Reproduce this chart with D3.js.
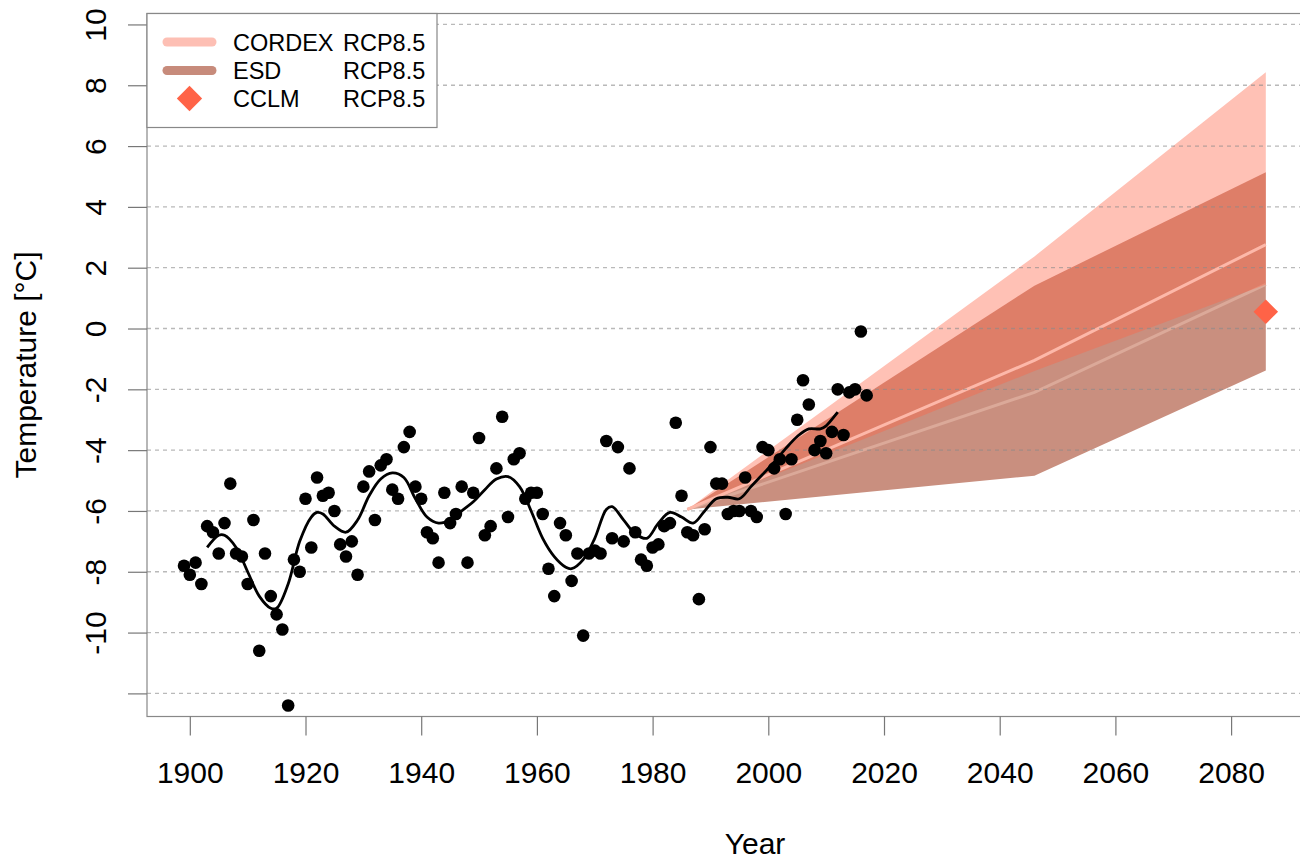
<!DOCTYPE html>
<html>
<head>
<meta charset="utf-8">
<script src="https://cdn.jsdelivr.net/npm/d3@7"></script>
<style>
  html, body { margin: 0; padding: 0; background: #fff; }
  svg { display: block; font-family: "Liberation Sans", Arial, Helvetica, sans-serif; }
</style>
</head>
<body>
<svg id="chart" width="1300" height="860"></svg>
<script>
// ---------- data ----------
const obsYears = [1899,1900,1901,1902,1903,1904,1905,1906,1907,1908,1909,1910,1911,1912,1913,1914,1915,1916,1917,1918,1919,
  1920,1921,1922,1923,1924,1925,1926,1927,1928,1929,1930,1931,1932,1933,1934,1935,1936,1937,1938,1939,
  1940,1941,1942,1943,1944,1945,1946,1947,1948,1949,1950,1951,1952,1953,1954,1955,1956,1957,1958,1959,
  1960,1961,1962,1963,1964,1965,1966,1967,1968,1969,1970,1971,1972,1973,1974,1975,1976,1977,1978,1979,
  1980,1981,1982,1983,1984,1985,1986,1987,1988,1989,1990,1991,1992,1993,1994,1995,1996,1997,1998,1999,
  2000,2001,2002,2003,2004,2005,2006,2007,2008,2009,2010,2011,2012,2013,2014,2015,2016,2017];
const obsTemps = [-7.8,-8.1,-7.7,-8.4,-6.5,-6.7,-7.4,-6.4,-5.1,-7.4,-7.5,-8.4,-6.3,-10.6,-7.4,-8.8,-9.4,-9.9,-12.4,-7.6,-8.0,
  -5.6,-7.2,-4.9,-5.5,-5.4,-6.0,-7.1,-7.5,-7.0,-8.1,-5.2,-4.7,-6.3,-4.5,-4.3,-5.3,-5.6,-3.9,-3.4,-5.2,
  -5.6,-6.7,-6.9,-7.7,-5.4,-6.4,-6.1,-5.2,-7.7,-5.4,-3.6,-6.8,-6.5,-4.6,-2.9,-6.2,-4.3,-4.1,-5.6,-5.4,
  -5.4,-6.1,-7.9,-8.8,-6.4,-6.8,-8.3,-7.4,-10.1,-7.4,-7.3,-7.4,-3.7,-6.9,-3.9,-7.0,-4.6,-6.7,-7.6,-7.8,
  -7.2,-7.1,-6.5,-6.4,-3.1,-5.5,-6.7,-6.8,-8.9,-6.6,-3.9,-5.1,-5.1,-6.1,-6.0,-6.0,-4.9,-6.0,-6.2,-3.9,
  -4.0,-4.6,-4.3,-6.1,-4.3,-3.0,-1.7,-2.5,-4.0,-3.7,-4.1,-3.4,-2.0,-3.5,-2.1,-2.0,-0.1,-2.2];

const smoothYears = [1903,1905,1906,1908,1910,1912,1914,1915,1917,1919,1921,1922,1923,1925,1927,1929,1931,1933,1935,1937,1939,
  1941,1943,1945,1947,1949,1951,1953,1955,1957,1959,1961,1963,1965,1966,1968,1970,1972,1973,1975,1977,1979,
  1981,1983,1985,1987,1989,1991,1993,1995,1997,1999,2001,2003,2005,2007,2009,2010,2012];
const smoothTemps = [-7.2,-6.8,-6.8,-7.2,-8.0,-8.8,-9.2,-9.2,-8.4,-7.0,-6.2,-6.05,-6.1,-6.5,-6.7,-6.3,-5.5,-4.95,-4.75,-4.9,-5.6,
  -6.2,-6.4,-6.3,-6.0,-5.7,-5.3,-4.95,-4.87,-5.2,-6.0,-6.9,-7.5,-7.85,-7.9,-7.6,-6.9,-5.95,-5.86,-6.3,-6.75,-6.9,
  -6.4,-6.05,-6.2,-6.4,-6.0,-5.6,-5.55,-5.6,-5.2,-4.8,-4.4,-3.95,-3.55,-3.3,-3.3,-3.2,-2.75];

// projections
const projYears  = [1986, 2046, 2086];
const cordexLow  = [-5.95, -1.4, 1.45];
const cordexMed  = [-5.95, -1.05, 2.76];
const cordexHigh = [-5.95, 2.37, 8.43];
const esdLow     = [-5.95, -4.84, -1.38];
const esdMed     = [-5.95, -2.1, 1.45];
const esdHigh    = [-5.95, 1.41, 5.14];
const cclmYear = [2086];
const cclmTemp = [0.55];

const xTicks = [1900,1920,1940,1960,1980,2000,2020,2040,2060,2080];
const yTicks = [10,8,6,4,2,0,-2,-4,-6,-8,-10,-12];
const yTickLabels = ["10","8","6","4","2","0","-2","-4","-6","-8","-10",""];

const legendNames = ["CORDEX","ESD","CCLM"];
const legendScen  = ["RCP8.5","RCP8.5","RCP8.5"];

// ---------- layout ----------
const svg = d3.select("#chart");
const plotL = 147, plotR = 1363, plotT = 13.5, plotB = 716.5;
const x = d3.scaleLinear().domain([1892.6, 2102.8]).range([plotL, plotR]);
const y = d3.scaleLinear().domain([-12.76, 10.36]).range([plotB, plotT]);

const C_CORDEX = "tomato";
const C_ESD = "#c98f7f";
const FS = 30;

svg.append("defs").append("clipPath").attr("id","plotclip")
  .append("rect").attr("x",plotL).attr("y",plotT).attr("width",plotR-plotL).attr("height",plotB-plotT);

const g = svg.append("g").attr("clip-path","url(#plotclip)");

const band = (lo, hi) => d3.area()
  .x((d,i)=>x(projYears[i])).y0((d,i)=>y(lo[i])).y1((d,i)=>y(hi[i]))(projYears);
const medLine = (vals) => d3.line().x((d,i)=>x(projYears[i])).y((d,i)=>y(vals[i]))(projYears);

// ESD band
g.append("path").attr("d", band(esdLow, esdHigh)).attr("fill", C_ESD);
g.append("path").attr("d", medLine(esdMed)).attr("fill","none").attr("stroke","#dba999").attr("stroke-width",3);
// CORDEX band (translucent)
g.append("path").attr("d", band(cordexLow, cordexHigh)).attr("fill", C_CORDEX).attr("fill-opacity",0.4);
g.append("path").attr("d", medLine(cordexMed)).attr("fill","none").attr("stroke","#fdb8a9").attr("stroke-width",3);

// grid lines
g.selectAll("line.grid").data(yTicks).join("line").attr("class","grid")
  .attr("x1",plotL).attr("x2",plotR).attr("y1",d=>y(d)).attr("y2",d=>y(d))
  .attr("stroke","#8a8a8a").attr("stroke-opacity",0.6).attr("stroke-width",1.3).attr("stroke-dasharray","4,4");

// CCLM diamond
g.selectAll("path.cclm").data(cclmYear).join("path").attr("class","cclm")
  .attr("d", d3.symbol(d3.symbolSquare, 300)())
  .attr("transform",(d,i)=>`translate(${x(d)},${y(cclmTemp[i])}) rotate(45)`)
  .attr("fill","tomato");

// points
g.selectAll("circle.obs").data(obsYears).join("circle").attr("class","obs")
  .attr("cx",d=>x(d)).attr("cy",(d,i)=>y(obsTemps[i])).attr("r",6.3).attr("fill","#000");

// smooth line
g.append("path")
  .attr("d", d3.line().curve(d3.curveCatmullRom).x((d,i)=>x(smoothYears[i])).y((d,i)=>y(smoothTemps[i]))(smoothYears))
  .attr("fill","none").attr("stroke","#000").attr("stroke-width",2.8);

// box
svg.append("rect").attr("x",plotL).attr("y",plotT).attr("width",plotR-plotL).attr("height",plotB-plotT)
  .attr("fill","none").attr("stroke","#888").attr("stroke-width",1.2);

// axes
const xAxis = svg.append("g").attr("transform",`translate(0,${plotB})`)
  .call(d3.axisBottom(x).tickValues(xTicks).tickSize(19).tickPadding(26).tickFormat(d3.format("d")));
xAxis.select(".domain").remove();
xAxis.selectAll("line").attr("stroke","#777").attr("stroke-width",1.2);
xAxis.selectAll("text").attr("font-size",FS).attr("fill","#000").attr("font-family","Liberation Sans, Arial, sans-serif");

const yAxis = svg.append("g").attr("transform",`translate(${plotL},0)`)
  .call(d3.axisLeft(y).tickValues(yTicks).tickSize(19).tickFormat((d,i)=>yTickLabels[i]));
yAxis.select(".domain").remove();
yAxis.selectAll("line").attr("stroke","#777").attr("stroke-width",1.2);
yAxis.selectAll("text").attr("font-size",FS).attr("fill","#000").attr("font-family","Liberation Sans, Arial, sans-serif")
  .attr("x",null).attr("dy",null).attr("text-anchor","middle")
  .attr("transform","translate(-41,0) rotate(-90)");

// axis titles
svg.append("text").attr("x",(plotL+plotR)/2).attr("y",854).attr("text-anchor","middle")
  .attr("font-size",FS).text("Year");
svg.append("text").attr("transform",`translate(36,${(plotT+plotB)/2}) rotate(-90)`).attr("text-anchor","middle")
  .attr("font-size",FS).text("Temperature [°C]");

// legend
const leg = svg.append("g");
leg.append("rect").attr("x",plotL).attr("y",plotT).attr("width",290).attr("height",114)
  .attr("fill","#fff").attr("stroke","#888").attr("stroke-width",1.2);
const rowY = [42, 70.5, 98.5];
const legColors = ["#fdbfb4", "#c78b7b", "tomato"];
[0,1].forEach(i=>{
  leg.append("line").attr("x1",167).attr("x2",212).attr("y1",rowY[i]).attr("y2",rowY[i])
    .attr("stroke",legColors[i]).attr("stroke-width",9).attr("stroke-linecap","round");
});
leg.append("path").attr("d", d3.symbol(d3.symbolSquare, 320)())
  .attr("transform",`translate(189.5,${rowY[2]}) rotate(45)`).attr("fill",legColors[2]);
legendNames.forEach((n,i)=>{
  leg.append("text").attr("x",233).attr("y",rowY[i]+8.5).attr("font-size",23.5).text(n);
  leg.append("text").attr("x",343).attr("y",rowY[i]+8.5).attr("font-size",23.5).text(legendScen[i]);
});
</script>
</body>
</html>
